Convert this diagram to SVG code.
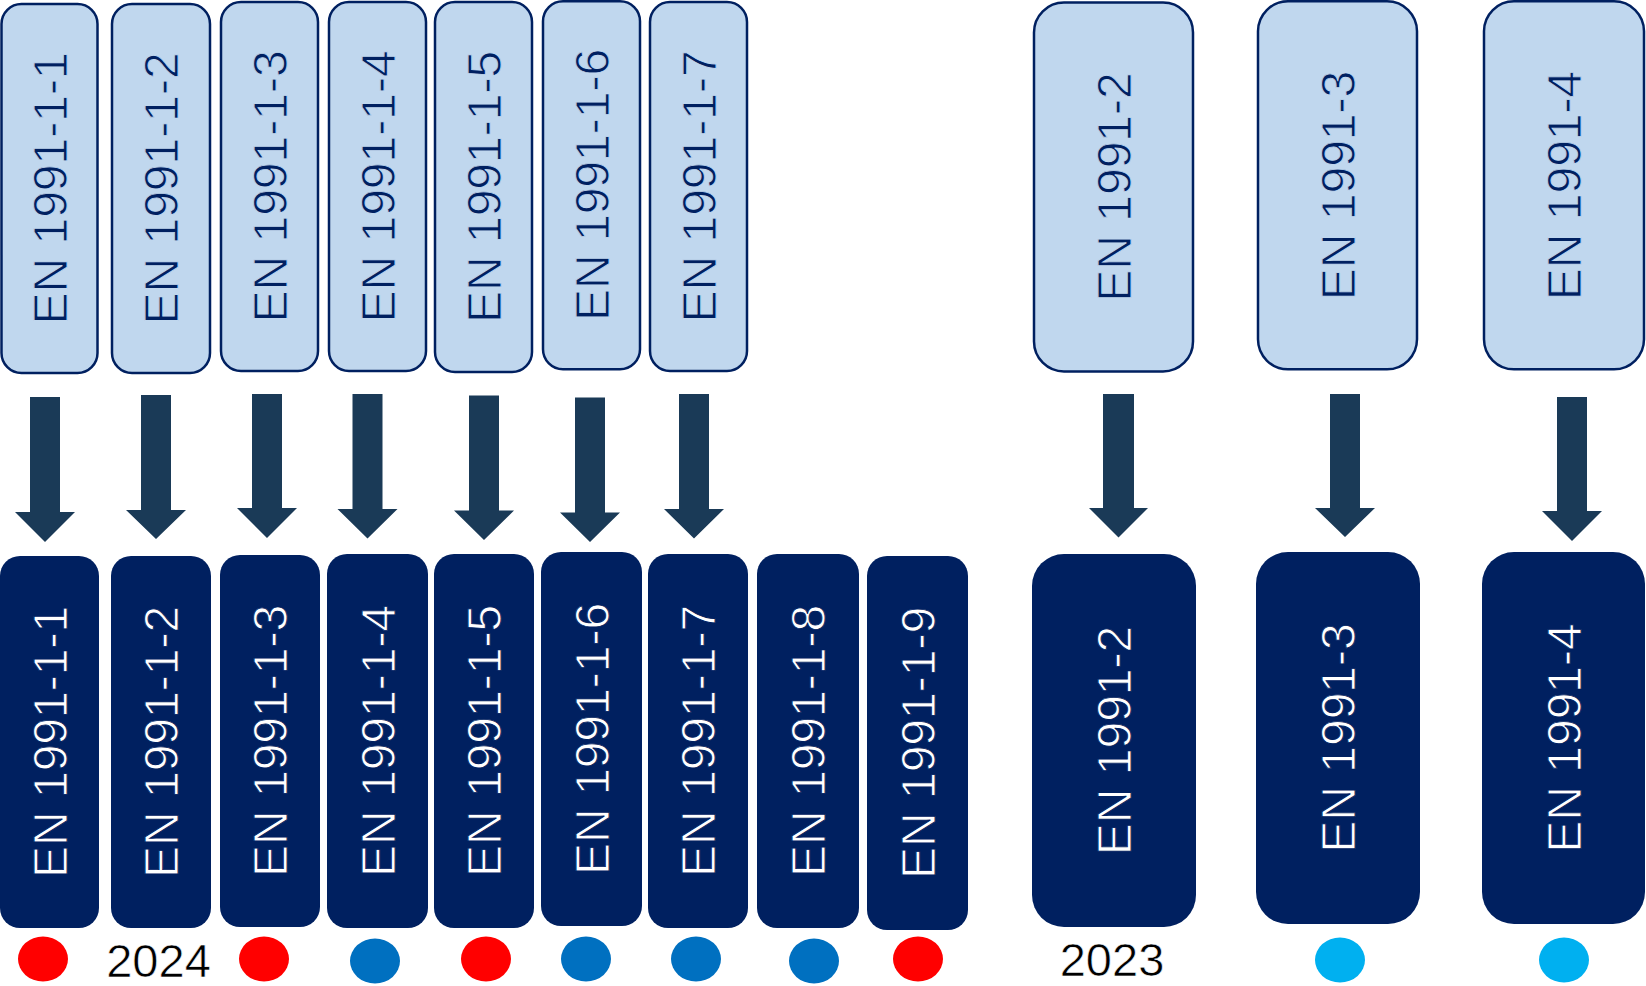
<svg xmlns="http://www.w3.org/2000/svg" width="1646" height="986" viewBox="0 0 1646 986">
<style>
.lt{fill:#c0d7ee;stroke:#002060;stroke-width:2.5}
.dk{fill:#002060}
.tl{font-family:"Liberation Sans",Arial,sans-serif;font-size:48px;fill:#002060;stroke:#c0d7ee;stroke-width:0.9;text-anchor:middle}
.tw{font-family:"Liberation Sans",Arial,sans-serif;font-size:48px;fill:#ffffff;stroke:#002060;stroke-width:0.9;text-anchor:middle}
.yr{font-family:"Liberation Sans",Arial,sans-serif;font-size:47px;fill:#000000;stroke:#ffffff;stroke-width:0.6;text-anchor:middle}
.ar{fill:#1a3a57}
.red{fill:#ff0000}
.blu{fill:#0070c0}
.lbl{fill:#00b0f0}
</style>
<rect width="1646" height="986" fill="#ffffff"/>
<g id="old-1-1"><rect class="lt" x="1.5" y="4" width="96" height="369" rx="20"/><text class="tl" transform="translate(67,188.5) rotate(-90)">EN 1991-1-1</text></g>
<g id="old-1-2"><rect class="lt" x="112" y="4" width="98" height="369" rx="20"/><text class="tl" transform="translate(178,188.5) rotate(-90)">EN 1991-1-2</text></g>
<g id="old-1-3"><rect class="lt" x="221" y="2" width="97" height="369" rx="20"/><text class="tl" transform="translate(286.5,186.5) rotate(-90)">EN 1991-1-3</text></g>
<g id="old-1-4"><rect class="lt" x="329" y="2" width="97" height="369" rx="20"/><text class="tl" transform="translate(394.5,186.5) rotate(-90)">EN 1991-1-4</text></g>
<g id="old-1-5"><rect class="lt" x="435" y="2" width="97" height="370" rx="20"/><text class="tl" transform="translate(500.5,187) rotate(-90)">EN 1991-1-5</text></g>
<g id="old-1-6"><rect class="lt" x="543" y="1.3" width="97" height="368" rx="20"/><text class="tl" transform="translate(608.5,185) rotate(-90)">EN 1991-1-6</text></g>
<g id="old-1-7"><rect class="lt" x="650" y="2" width="97" height="369" rx="20"/><text class="tl" transform="translate(715.5,186.5) rotate(-90)">EN 1991-1-7</text></g>
<g id="old-2"><rect class="lt" x="1034" y="2.5" width="159" height="369" rx="30"/><text class="tl" transform="translate(1130.5,187) rotate(-90)">EN 1991-2</text></g>
<g id="old-3"><rect class="lt" x="1258" y="1.3" width="159" height="368" rx="30"/><text class="tl" transform="translate(1354.5,185.5) rotate(-90)">EN 1991-3</text></g>
<g id="old-4"><rect class="lt" x="1484" y="1.3" width="160" height="368" rx="30"/><text class="tl" transform="translate(1581,185.5) rotate(-90)">EN 1991-4</text></g>

<g id="connectors">
<polygon class="ar" points="30,397 60,397 60,512 75,512 45,542 15,512 30,512"/>
<polygon class="ar" points="141,395 171,395 171,510 186,510 156,539 126,510 141,510"/>
<polygon class="ar" points="252,394 282,394 282,508 297,508 267,538 237,508 252,508"/>
<polygon class="ar" points="352.5,394 382.5,394 382.5,509 397.5,509 367.5,538.5 337.5,509 352.5,509"/>
<polygon class="ar" points="469,395.5 499,395.5 499,510.5 514,510.5 484,540 454,510.5 469,510.5"/>
<polygon class="ar" points="575,397.5 605,397.5 605,512.5 620,512.5 590,542 560,512.5 575,512.5"/>
<polygon class="ar" points="679,394 709,394 709,509 724,509 694,538.5 664,509 679,509"/>
<polygon class="ar" points="1103,394 1134,394 1134,508 1148,508 1118.5,537.5 1089,508 1103,508"/>
<polygon class="ar" points="1330,394 1360,394 1360,508 1375,508 1345,537 1315,508 1330,508"/>
<polygon class="ar" points="1557,397 1587,397 1587,511 1602,511 1572,541 1542,511 1557,511"/>
</g>

<g id="new-1-1"><rect class="dk" x="0" y="556" width="99" height="372" rx="20"/><text class="tw" transform="translate(66.5,742) rotate(-90)">EN 1991-1-1</text></g>
<g id="new-1-2"><rect class="dk" x="111" y="556" width="100" height="372" rx="20"/><text class="tw" transform="translate(178,742) rotate(-90)">EN 1991-1-2</text></g>
<g id="new-1-3"><rect class="dk" x="220" y="555" width="100" height="372" rx="20"/><text class="tw" transform="translate(287,741) rotate(-90)">EN 1991-1-3</text></g>
<g id="new-1-4"><rect class="dk" x="327" y="554" width="101" height="374" rx="20"/><text class="tw" transform="translate(394.5,741) rotate(-90)">EN 1991-1-4</text></g>
<g id="new-1-5"><rect class="dk" x="434" y="554" width="100" height="374" rx="20"/><text class="tw" transform="translate(501,741) rotate(-90)">EN 1991-1-5</text></g>
<g id="new-1-6"><rect class="dk" x="541" y="552" width="101" height="374" rx="20"/><text class="tw" transform="translate(608.5,739) rotate(-90)">EN 1991-1-6</text></g>
<g id="new-1-7"><rect class="dk" x="648" y="554" width="100" height="374" rx="20"/><text class="tw" transform="translate(715,741) rotate(-90)">EN 1991-1-7</text></g>
<g id="new-1-8"><rect class="dk" x="757" y="554" width="102" height="374" rx="20"/><text class="tw" transform="translate(825,741) rotate(-90)">EN 1991-1-8</text></g>
<g id="new-1-9"><rect class="dk" x="867" y="556" width="101" height="374" rx="20"/><text class="tw" transform="translate(934.5,743) rotate(-90)">EN 1991-1-9</text></g>
<g id="new-2"><rect class="dk" x="1032" y="554" width="164" height="373" rx="32"/><text class="tw" transform="translate(1131,740.5) rotate(-90)">EN 1991-2</text></g>
<g id="new-3"><rect class="dk" x="1256" y="552" width="164" height="372" rx="32"/><text class="tw" transform="translate(1355,738) rotate(-90)">EN 1991-3</text></g>
<g id="new-4"><rect class="dk" x="1482" y="552" width="163" height="372" rx="32"/><text class="tw" transform="translate(1580.5,738) rotate(-90)">EN 1991-4</text></g>

<g id="markers">
<ellipse class="red" cx="43" cy="959" rx="25" ry="22.5"/>
<ellipse class="red" cx="264" cy="959" rx="25" ry="22.5"/>
<ellipse class="blu" cx="375" cy="961" rx="25" ry="22.5"/>
<ellipse class="red" cx="486" cy="959" rx="25" ry="22.5"/>
<ellipse class="blu" cx="586" cy="959" rx="25" ry="22.5"/>
<ellipse class="blu" cx="696" cy="959" rx="25" ry="22.5"/>
<ellipse class="blu" cx="814" cy="961" rx="25" ry="22.5"/>
<ellipse class="red" cx="918" cy="959" rx="25" ry="22.5"/>
<ellipse class="lbl" cx="1340" cy="960" rx="25" ry="22.5"/>
<ellipse class="lbl" cx="1564" cy="960" rx="25" ry="22.5"/>
</g>
<g id="years">
<text class="yr" x="158.5" y="977">2024</text>
<text class="yr" x="1112" y="976">2023</text>
</g>
</svg>
